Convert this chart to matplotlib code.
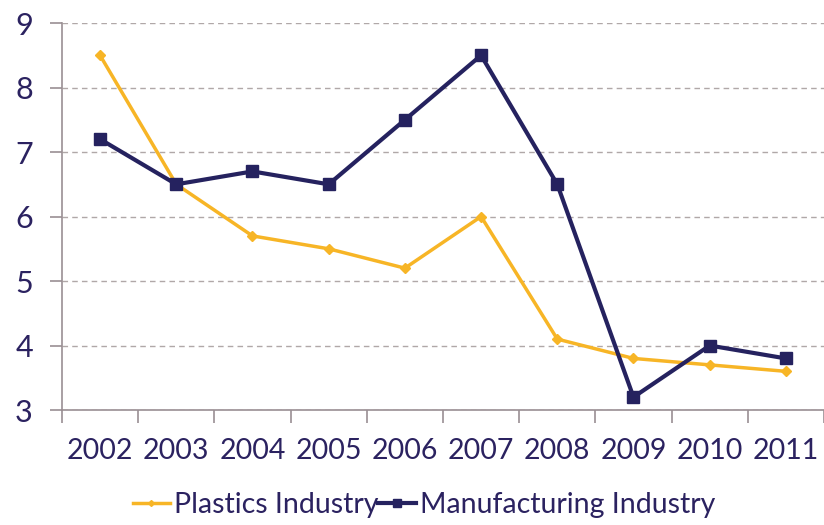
import matplotlib.pyplot as plt
from matplotlib.ticker import FixedLocator

plt.rcParams['font.family'] = ['Lato', 'DejaVu Sans']

years = ["2002", "2003", "2004", "2005", "2006", "2007", "2008", "2009", "2010", "2011"]
plastics = [8.5, 6.5, 5.7, 5.5, 5.2, 6.0, 4.1, 3.8, 3.7, 3.6]
manufacturing = [7.2, 6.5, 6.7, 6.5, 7.5, 8.5, 6.5, 3.2, 4.0, 3.8]

TEXT = "#2b2260"
ORANGE = "#f7b526"
NAVY = "#25225f"
AXIS = "#9a8f93"

fig = plt.figure(figsize=(8.24, 5.25), dpi=100)
ax = fig.add_axes([0.0752, 0.219, 0.9248, 0.737])

x = list(range(len(years)))
ax.plot(x, plastics, color=ORANGE, lw=2.5, marker="D", ms=5, label="Plastics Industry")
ax.plot(x, manufacturing, color=NAVY, lw=3, marker="s", ms=9, label="Manufacturing Industry")

ax.set_xlim(-0.5, 9.5)
ax.set_ylim(3, 9)
ax.set_yticks(range(3, 10))
ax.set_xticks(x)
ax.set_xticklabels(years)
ax.xaxis.set_minor_locator(FixedLocator([i - 0.5 for i in range(11)]))

ax.tick_params(axis="x", which="major", length=0, pad=20, labelsize=20.5, labelcolor=TEXT)
ax.tick_params(axis="x", which="minor", length=9, width=1.2, color=AXIS, direction="out")
ax.tick_params(axis="y", length=9, width=1.2, color=AXIS, pad=12, labelsize=22, labelcolor=TEXT)

ax.grid(axis="y", ls=(0, (4, 3)), color="#b0a8a8", lw=1)
ax.set_axisbelow(True)
for s in ["top", "right"]:
    ax.spines[s].set_visible(False)
for s in ["left", "bottom"]:
    ax.spines[s].set_color(AXIS)
    ax.spines[s].set_linewidth(1.2)

leg = ax.legend(loc="center", bbox_to_anchor=(0.475, -0.245), ncol=2, frameon=False,
                fontsize=20.5, handlelength=1.3, handletextpad=0.15, columnspacing=0.0,
                markerscale=0.6, borderpad=0.0)
for t in leg.get_texts():
    t.set_color(TEXT)

fig.savefig("out.png", dpi=100)
